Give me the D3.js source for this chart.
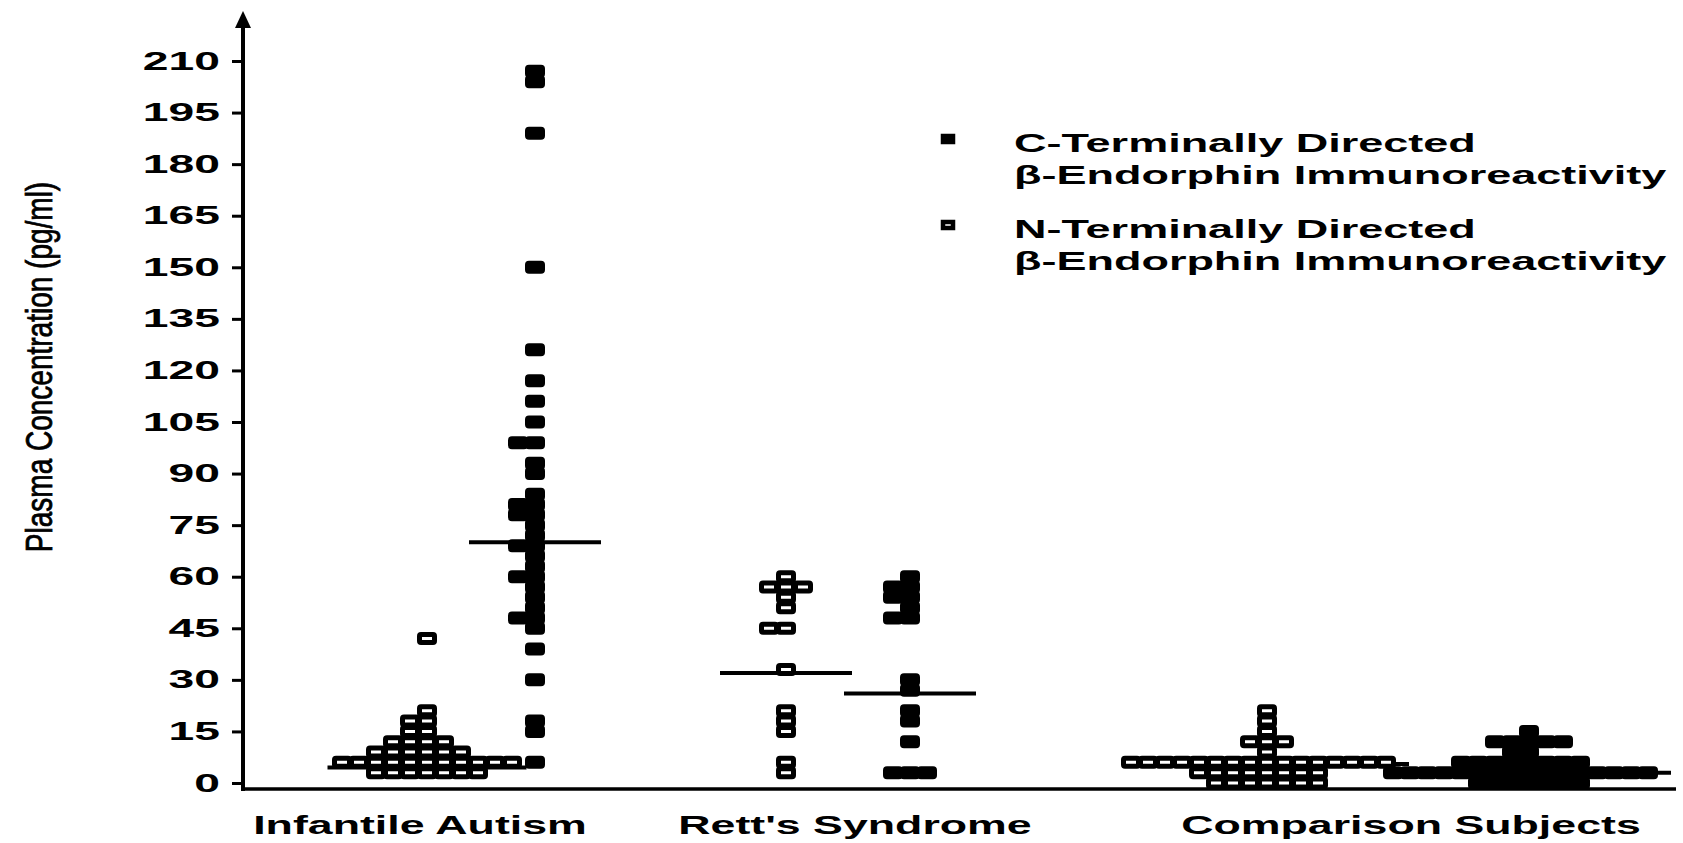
<!DOCTYPE html>
<html>
<head>
<meta charset="utf-8">
<script src="https://cdn.jsdelivr.net/npm/d3@7"></script>
<style>
body { margin: 0; background: #fff; }
text { font-family: "Liberation Sans", Arial, sans-serif; fill: #000; }
</style>
</head>
<body>
<div id="chart"></div>
<script>
// groups along the bottom
var categories = ["Infantile Autism", "Rett's Syndrome", "Comparison Subjects"];
var yTicks = [0, 15, 30, 45, 60, 75, 90, 105, 120, 135, 150, 165, 180, 195, 210];

// N-terminally directed (open squares), pg/ml
var autismN = [43, 20, 17, 17, 14, 14, 11, 11, 11, 11, 8, 8, 8, 8, 8, 8,
  5, 5, 5, 5, 5, 5, 5, 5, 5, 5, 5, 2, 2, 2, 2, 2, 2, 2];
var rettN = [61, 58, 58, 58, 55, 52, 46, 46, 34, 22, 19, 16, 5, 2];
var compN = [20, 17, 14, 12, 12, 12, 9,
  6, 6, 6, 6, 6, 6, 6, 6, 6, 6, 6, 6, 6, 6, 6, 6,
  3, 3, 3, 3, 3, 3, 3, 3, 0, 0, 0, 0, 0, 0, 0];

// C-terminally directed (filled squares), pg/ml
var autismC = [208, 205, 189, 149, 127, 118, 112, 106, 100, 99, 94, 91, 84, 81, 80,
  78, 77, 75, 72, 69, 69, 66, 63, 60, 59, 57, 54, 51, 49, 48, 45, 39, 29, 19, 15, 7];
var rettC = [60, 57, 57, 54, 54, 51, 48, 48, 30, 27, 20, 17, 12, 4, 4, 4];
var compC = [15, 12, 12, 12, 12, 12, 9, 9,
  6, 6, 6, 6, 6, 6, 6, 6,
  3, 3, 3, 3, 3, 3, 3, 3, 3, 3, 3, 3, 3, 3, 3, 3,
  0, 0, 0, 0, 0, 0, 0];

// group means (horizontal bars)
var meansN = [4.5, 32, 5.5];
var meansC = [70, 26, 3];

var legendLabels = [
  ["C-Terminally Directed", "\u03B2-Endorphin Immunoreactivity"],
  ["N-Terminally Directed", "\u03B2-Endorphin Immunoreactivity"]
];

var W = 1683, H = 843;
var svg = d3.select("#chart").append("svg")
    .attr("width", W)
    .attr("height", H);

var y = d3.scaleLinear().domain([0, 210]).range([783, 61]);
var groupX = d3.scaleOrdinal().domain(categories).range([481, 848, 1398]);
var halfGap = d3.scaleOrdinal().domain(categories).range([54, 62, 131]);
var labelX = d3.scaleOrdinal().domain(categories).range([420, 855, 1411]);

var axisX = 243;
var binSize = 3, step = 17;
var boxW = 15, boxH = 8, boxStroke = 5;

// dot-plot stacking: same bin -> spread sideways (centre, left, right, ...)
function stackDots(values) {
    var bins = d3.group(values, function(v) { return Math.round(v / binSize); });
    var pts = [], widest = 1;
    bins.forEach(function(vals, b) {
        widest = Math.max(widest, vals.length);
        vals.forEach(function(v, k) {
            var off = k === 0 ? 0 : (k % 2 ? -(k + 1) / 2 : k / 2);
            pts.push({ value: b * binSize, off: off });
        });
    });
    return { pts: pts, widest: widest };
}

var columns = [];
var nSets = [autismN, rettN, compN], cSets = [autismC, rettC, compC];
categories.forEach(function(c, i) {
    columns.push({ cat: c, side: -1, open: true, values: nSets[i], mean: meansN[i] });
    columns.push({ cat: c, side: 1, open: false, values: cSets[i], mean: meansC[i] });
});

// axes
var baseY = y(0) + 6;
svg.append("line")
    .attr("x1", axisX - 2).attr("x2", 1676)
    .attr("y1", baseY).attr("y2", baseY)
    .attr("stroke", "#000").attr("stroke-width", 3.5);

svg.append("line")
    .attr("x1", axisX).attr("x2", axisX)
    .attr("y1", baseY + 2).attr("y2", 24)
    .attr("stroke", "#000").attr("stroke-width", 4);
svg.append("path")
    .attr("d", "M" + axisX + ",11 L" + (axisX - 8) + ",28 L" + (axisX + 8) + ",28 Z")
    .attr("fill", "#000");

var tickSx = 1.85;
var yAxis = svg.append("g")
    .attr("transform", "translate(" + axisX + ",0)")
    .call(d3.axisLeft(y).tickValues(yTicks).tickSize(11));
yAxis.select(".domain").remove();
yAxis.selectAll(".tick line").attr("stroke-width", 3);
yAxis.selectAll(".tick text")
    .attr("x", -23 / tickSx)
    .attr("transform", "scale(" + tickSx + ",1)")
    .style("font-family", "'Liberation Sans', Arial, sans-serif")
    .style("font-size", "25px")
    .style("font-weight", "bold");

svg.append("text")
    .attr("transform", "translate(52,367) rotate(-90) scale(1,1.3)")
    .attr("text-anchor", "middle")
    .style("font-size", "28px")
    .style("stroke", "#000")
    .style("stroke-width", 0.6)
    .text("Plasma Concentration  (pg/ml)");

// category labels
var catSx = 1.72;
svg.selectAll(".cat").data(categories).enter().append("text")
    .attr("class", "cat")
    .attr("x", function(d) { return labelX(d) / catSx; })
    .attr("y", 834)
    .attr("transform", "scale(" + catSx + ",1)")
    .attr("text-anchor", "middle")
    .style("font-size", "26px")
    .style("font-weight", "bold")
    .text(function(d) { return d; });

// squares and mean bars
columns.forEach(function(col) {
    var x0 = groupX(col.cat) + col.side * halfGap(col.cat);
    var st = stackDots(col.values);
    var g = svg.append("g");
    var half = Math.max(66, st.widest * step / 2 + 6);
    g.append("line")
        .attr("x1", x0 - half).attr("x2", x0 + half)
        .attr("y1", y(col.mean)).attr("y2", y(col.mean))
        .attr("stroke", "#000").attr("stroke-width", 4);
    g.selectAll("rect").data(st.pts).enter().append("rect")
        .attr("x", function(d) { return x0 + d.off * step - boxW / 2; })
        .attr("y", function(d) { return y(d.value) - boxH / 2; })
        .attr("width", boxW)
        .attr("height", boxH)
        .attr("rx", 1.5)
        .attr("fill", col.open ? "#fff" : "#000")
        .attr("stroke", "#000")
        .attr("stroke-width", boxStroke);
});

// legend
var legSx = 1.8;
var legY = [152, 238];
var leg = svg.selectAll(".leg").data(legendLabels).enter().append("g").attr("class", "leg");
leg.append("rect")
    .attr("x", 943).attr("y", function(d, i) { return legY[i] - 16; })
    .attr("width", 10).attr("height", 6)
    .attr("fill", function(d, i) { return i === 0 ? "#000" : "#fff"; })
    .attr("stroke", "#000").attr("stroke-width", 4.5);
leg.each(function(d, i) {
    d3.select(this).selectAll("text").data(d).enter().append("text")
        .attr("x", 1014 / legSx)
        .attr("y", function(t, j) { return legY[i] + j * 32; })
        .attr("transform", "scale(" + legSx + ",1)")
        .style("font-size", "25px")
        .style("font-weight", "bold")
        .text(function(t) { return t; });
});
</script>
</body>
</html>
